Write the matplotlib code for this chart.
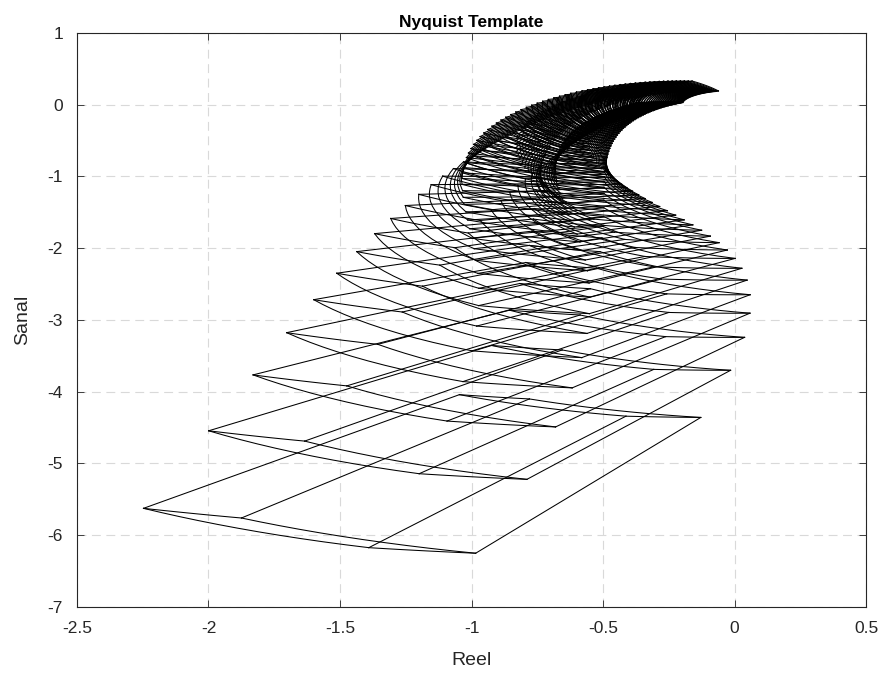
import itertools
import numpy as np
import matplotlib
matplotlib.use("Agg")
import matplotlib.pyplot as plt
from matplotlib.ticker import FormatStrFormatter

plt.rcParams['font.family'] = ['Liberation Sans', 'DejaVu Sans']
plt.rcParams['axes.unicode_minus'] = False

# uncertain plant  P(s) = (a*s + b) * exp(-theta*s) / ((s + p) * (tau*s + 1) * (T*s + 1))
a_num = 1.724
b_range = [4.133, 6.266]
tau_range = [0.1916, 0.3625]
theta_range = [0.05665, 0.122]
T_pole = 0.0713
p_pole = -0.1079

# frequency grid of the templates (rad/s)
w_start, w_stop, w_step = 1.0, 16.0, 0.2086
w = np.arange(w_start, w_stop, w_step)

x_ticks = [-2.5, -2, -1.5, -1, -0.5, 0, 0.5]
y_ticks = [-7, -6, -5, -4, -3, -2, -1, 0, 1]


def plant(wi, b, tau, theta):
    s = 1j * wi
    return (a_num * s + b) * np.exp(-theta * s) / ((s + p_pole) * (tau * s + 1) * (T_pole * s + 1))


def template_edges(wi, n=12):
    """All 12 edges of the parameter box mapped at one frequency."""
    ranges = [b_range, tau_range, theta_range]
    out = []
    for i in range(3):
        others = [r for j, r in enumerate(ranges) if j != i]
        for combo in itertools.product(*others):
            sweep = np.linspace(ranges[i][0], ranges[i][1], n)
            args = list(combo)
            args.insert(i, sweep)
            out.append(plant(wi, *args))
    return out


fig = plt.figure(figsize=(8.91, 6.88), dpi=100)
ax = fig.add_axes([0.0864, 0.118, 0.8856, 0.834])

for wi in w:
    for z in template_edges(wi):
        ax.plot(z.real, z.imag, color='k', lw=0.75)

ax.set_xlim(-2.5, 0.5)
ax.set_ylim(-7, 1)
ax.set_xticks(x_ticks)
ax.set_yticks(y_ticks)
ax.xaxis.set_major_formatter(FormatStrFormatter('%g'))
ax.yaxis.set_major_formatter(FormatStrFormatter('%g'))
ax.tick_params(direction='in', top=True, right=True, length=5, width=0.6,
               labelsize=12.5, colors='#262626', pad=10)
ax.grid(True, color='#d9d9d9', ls=(0, (8, 5)), lw=0.8)
ax.set_axisbelow(True)
for sp in ax.spines.values():
    sp.set_color('#262626')
    sp.set_linewidth(0.8)

ax.set_title('Nyquist Template', fontsize=12.5, fontweight='bold', pad=4)
ax.set_xlabel('Reel', fontsize=14, color='#262626', labelpad=12)
ax.set_ylabel('Sanal', fontsize=14, color='#262626', labelpad=12)

fig.savefig('out.png')
